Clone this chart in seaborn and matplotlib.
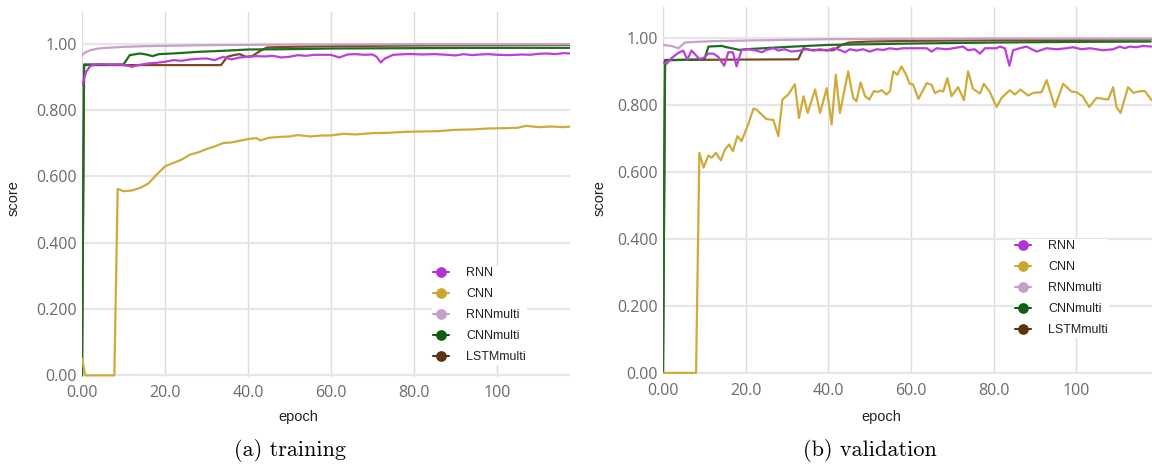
import pandas as pd
import seaborn as sns
import matplotlib.pyplot as plt
from matplotlib.lines import Line2D

models = ['RNN', 'CNN', 'RNNmulti', 'CNNmulti', 'LSTMmulti']
line_colors = ['#bd3fd9', '#cdac3b', '#c9a0c9', '#1d6e1d', '#7a4a20']
dot_colors = ['#b233d1', '#c9a632', '#c4a0c8', '#0d5e12', '#5c3310']

x_ticks = [0, 20, 40, 60, 80, 100]
x_ticklabels = ['0.00', '20.0', '40.0', '60.0', '80.0', '100']
y_ticks = [0, 0.2, 0.4, 0.6, 0.8, 1.0]
y_ticklabels = ['0.00', '0.200', '0.400', '0.600', '0.800', '1.00']

# ---- (a) training ----
train_rnn_epoch = [0, 1, 2, 3, 5, 7, 9, 11, 12, 14, 16, 18, 20, 22, 24, 26, 28, 30, 32, 34, 36,
                   38, 40, 42, 44, 46, 48, 50, 52, 54, 56, 58, 60, 62, 64, 66, 68, 70, 71, 72, 73,
                   75, 78, 80, 82, 85, 88, 90, 92, 94, 96, 98, 100, 103, 106, 108, 110, 112, 114,
                   116, 118]
train_rnn_score = [.872, .915, .932, .937, .938, .936, .937, .933, .930, .936, .940, .942, .945,
                   .950, .948, .952, .954, .955, .950, .960, .952, .958, .960, .962, .961, .963,
                   .958, .960, .965, .963, .966, .966, .966, .958, .967, .968, .966, .967, .960,
                   .943, .955, .966, .968, .968, .967, .968, .966, .964, .968, .965, .967, .968,
                   .966, .965, .967, .966, .969, .970, .968, .971, .970]

train_cnn_epoch = [0, 0.8, 7.8, 8.6, 10, 12, 14, 16, 18, 20, 22, 24, 26, 28, 30, 32, 34, 36, 38,
                   40, 42, 43, 45, 47, 50, 52, 55, 58, 60, 63, 66, 70, 74, 78, 82, 86, 90, 94, 98,
                   102, 105, 107, 110, 113, 116, 118]
train_cnn_score = [.05, 0, 0, .562, .555, .557, .565, .578, .605, .630, .640, .650, .665, .672,
                   .682, .690, .700, .702, .707, .712, .715, .708, .716, .718, .720, .724, .720,
                   .723, .723, .728, .726, .730, .731, .734, .735, .736, .740, .741, .744, .745,
                   .746, .752, .748, .750, .748, .750]

train_rnnm_epoch = [0, 1, 2, 4, 6, 10, 15, 20, 30, 40, 50, 60, 80, 100, 118]
train_rnnm_score = [.965, .975, .980, .985, .987, .990, .992, .993, .995, .996, .997, .997, .998,
                    .998, .998]

train_cnnm_epoch = [0, 0.5, 10, 11.5, 14, 15.5, 17, 18.5, 22, 28, 34, 40, 50, 60, 80, 100, 118]
train_cnnm_score = [0, .937, .937, .965, .970, .967, .962, .968, .970, .975, .978, .982, .983,
                    .985, .986, .987, .987]

train_lstm_epoch = [0, 0.5, 33.5, 35, 36.5, 38, 39.5, 41, 43, 44.5, 50, 60, 80, 100, 118]
train_lstm_score = [0, .935, .935, .960, .965, .968, .960, .962, .978, .988, .990, .992, .994,
                    .995, .996]

# ---- (b) validation ----
val_rnn_epoch = [0, 0.9, 2.1, 3.7, 4.9, 5.9, 6.9, 8.8, 9.8, 11, 12.2, 13.4, 14.8, 15.8, 16.9,
                 17.8, 19, 20.6, 22.6, 23.9, 25, 26.7, 27.9, 29.5, 31.1, 33.1, 34.7, 36.4, 38,
                 39.6, 41.2, 42.8, 44, 45.2, 46.8, 48.4, 50, 51.7, 53.3, 54.9, 56.5, 58.1, 59.7,
                 62.2, 63.8, 65, 66.2, 68.6, 70.2, 72.6, 73.8, 75.4, 76.7, 77.9, 80.7, 81.5, 82.7,
                 83.8, 84.7, 86.3, 87.9, 90.4, 92.8, 95.2, 97.6, 99.2, 101.2, 103.3, 106.5, 108.9,
                 110.5, 111.7, 112.9, 114.5, 116.1, 118.1]
val_rnn_score = [.926, .922, .939, .954, .961, .934, .961, .936, .939, .952, .952, .942, .916,
                 .956, .956, .914, .963, .965, .961, .956, .963, .968, .961, .965, .958, .961,
                 .965, .961, .965, .961, .968, .963, .956, .965, .961, .965, .958, .965, .963,
                 .968, .965, .968, .968, .968, .968, .958, .968, .965, .968, .973, .962, .965,
                 .952, .968, .968, .973, .968, .916, .962, .968, .973, .958, .968, .965, .968,
                 .971, .965, .968, .962, .965, .973, .968, .973, .971, .975, .973]

val_cnn_epoch = [0, 8, 8.8, 9.8, 11, 11.8, 12.8, 14, 15, 16, 16.9, 18, 19, 20.6, 21.9, 22.6, 25,
                 26.7, 27.9, 28.9, 30.3, 31.9, 32.9, 34, 35, 36.8, 38, 39.6, 40.8, 41.8, 42.8,
                 44.8, 46, 46.8, 47.8, 48.9, 49.9, 51, 52.1, 52.9, 54.1, 54.9, 55.7, 56.7, 57.7,
                 58.8, 59.7, 60.5, 61.8, 63.8, 65, 65.8, 67, 67.8, 68.8, 69.8, 71.4, 72.8, 73.8,
                 75, 76.7, 77.6, 79, 80.7, 81.9, 83.9, 85.1, 86.5, 88.3, 89.6, 91.6, 92.8, 94.8,
                 96.8, 98.8, 100, 101.5, 103.1, 104.9, 107.7, 108.9, 109.7, 110.7, 112.5, 113.8,
                 115.4, 116.6, 118.2]
val_cnn_score = [0, 0, .656, .612, .648, .642, .656, .634, .666, .681, .661, .706, .691, .741,
                 .788, .785, .757, .754, .706, .815, .830, .861, .760, .825, .775, .845, .775,
                 .849, .741, .889, .775, .899, .820, .810, .866, .825, .815, .840, .838, .843,
                 .830, .840, .899, .889, .914, .889, .862, .860, .817, .864, .859, .834, .842,
                 .839, .879, .825, .852, .813, .899, .847, .833, .862, .839, .793, .820, .843,
                 .830, .845, .827, .835, .837, .873, .793, .862, .839, .837, .825, .793, .820,
                 .815, .852, .793, .775, .852, .835, .840, .840, .813]

val_rnnm_epoch = [0, 2, 3.7, 5.3, 8, 12, 20, 30, 40, 60, 80, 100, 118]
val_rnnm_score = [.978, .975, .968, .985, .987, .989, .991, .993, .995, .996, .997, .997, .997]

val_cnnm_epoch = [0, 0.5, 10, 11, 14.2, 15.4, 16.6, 18.5, 20, 30, 40, 50, 60, 80, 100, 118]
val_cnnm_score = [0, .932, .935, .973, .975, .971, .968, .963, .965, .972, .978, .980, .982,
                  .985, .987, .988]

val_lstm_epoch = [0, 0.5, 32.7, 34, 35.6, 41.2, 43.2, 45, 50, 60, 80, 100, 118]
val_lstm_score = [0, .933, .935, .968, .963, .962, .978, .985, .988, .990, .992, .993, .994]

panels = [
    {'caption': '(a) training',
     'series': [(train_rnn_epoch, train_rnn_score), (train_cnn_epoch, train_cnn_score),
                (train_rnnm_epoch, train_rnnm_score), (train_cnnm_epoch, train_cnnm_score),
                (train_lstm_epoch, train_lstm_score)]},
    {'caption': '(b) validation',
     'series': [(val_rnn_epoch, val_rnn_score), (val_cnn_epoch, val_cnn_score),
                (val_rnnm_epoch, val_rnnm_score), (val_cnnm_epoch, val_cnnm_score),
                (val_lstm_epoch, val_lstm_score)]},
]

sns.set_theme(style='whitegrid')
plt.rcParams['font.family'] = ['Open Sans', 'DejaVu Sans']

W, H = 1152, 467
fig = plt.figure(figsize=(W / 100, H / 100), dpi=100)

# pixel boxes of the two plot areas (left, top, right, bottom)
boxes = [(82, 12, 570, 376.7), (663, 7, 1152, 374.2)]
ylims = [(-0.004, 1.095), (-0.004, 1.091)]
xlims = [(0, 117.6), (0, 118.3)]
leg_anchor = [(431.7, 266), (1014, 239)]
caption_x = [290, 870]
xlabel_x = [298, 881]
ylabel_x = [14, 599.5]

# 後畫的在上層: LSTMmulti 最底, RNN 最上
draw_order = models[::-1]

for i, panel in enumerate(panels):
    l, t, r, b = boxes[i]
    ax = fig.add_axes([l / W, 1 - b / H, (r - l) / W, (b - t) / H])

    frames = []
    for name, (ep, sc) in zip(models, panel['series']):
        frames.append(pd.DataFrame({'epoch': ep, 'score': sc, 'model': name}))
    df = pd.concat(frames, ignore_index=True)

    sns.lineplot(data=df, x='epoch', y='score', hue='model', hue_order=draw_order,
                 palette=dict(zip(models, line_colors)), estimator=None, lw=1.6,
                 legend=False, ax=ax)

    ax.set_xlim(*xlims[i])
    ax.set_ylim(*ylims[i])
    ax.set_xticks(x_ticks)
    ax.set_xticklabels(x_ticklabels)
    ax.set_yticks(y_ticks)
    ax.set_yticklabels(y_ticklabels)
    ax.tick_params(axis='both', length=0, labelsize=11.5, labelcolor='#6b6b6b')
    ax.tick_params(axis='x', pad=6)
    ax.tick_params(axis='y', pad=3.5)
    for s in ax.spines.values():
        s.set_visible(False)
    ax.grid(False)
    ax.grid(axis='y', color='#e6e6e6', lw=1.6)
    ax.grid(axis='x', color='#dcdcdc', lw=1.0)
    ax.set_axisbelow(True)

    ax.set_xlabel('epoch', family=['Liberation Sans', 'DejaVu Sans'], fontsize=10.5,
                  color='#222222', va='center')
    ax.set_ylabel('score', family=['Liberation Sans', 'DejaVu Sans'], fontsize=10.5,
                  color='#222222', va='center')
    ax.xaxis.set_label_coords((xlabel_x[i] - l) / (r - l), (b - 417) / (b - t))
    ax.yaxis.set_label_coords((ylabel_x[i] - l) / (r - l), (b - 198) / (b - t))

    handles = [Line2D([0], [0], color=c, marker='o', markersize=6.7, lw=1.5)
               for c in dot_colors]
    leg = ax.legend(handles, models, loc='upper left',
                    bbox_to_anchor=(leg_anchor[i][0] / W, 1 - leg_anchor[i][1] / H),
                    bbox_transform=fig.transFigure, frameon=True, facecolor='white',
                    edgecolor='none', framealpha=1, borderpad=0.1, borderaxespad=0,
                    handlelength=1.25, handletextpad=1.4, labelspacing=0.72,
                    prop={'family': ['Liberation Sans', 'DejaVu Sans'], 'size': 9})
    for txt in leg.get_texts():
        txt.set_color('#222222')

    fig.text(caption_x[i] / W, 1 - 450 / H, panel['caption'], family='cmr10',
             fontsize=16, ha='center', va='center', color='black')

fig.savefig('out.png', dpi=100)
